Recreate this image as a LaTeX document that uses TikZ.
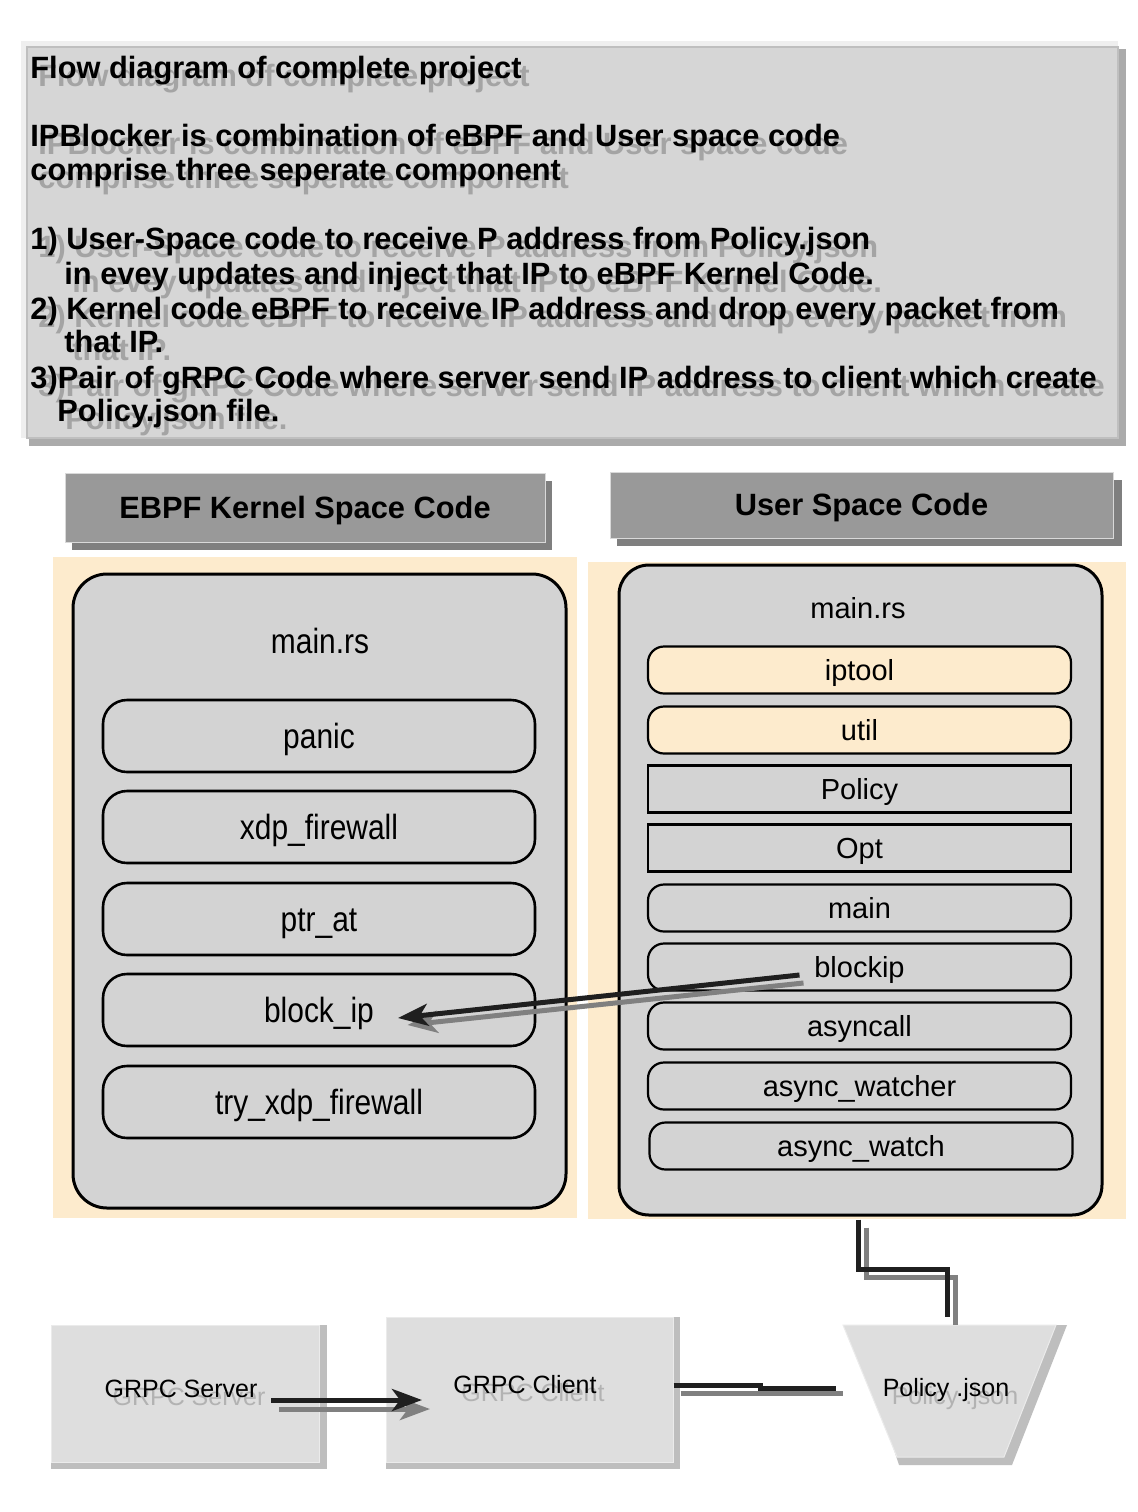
\documentclass[tikz,border=0pt]{standalone}
\usepackage{fontspec}
\setmainfont{Liberation Sans}
\newfontfamily\narrowfont[FakeStretch=0.855]{Liberation Sans}
\usetikzlibrary{arrows.meta,calc}
\definecolor{beige}{HTML}{FDEBCD}
\definecolor{panelgray}{HTML}{D3D3D3}
\definecolor{hdrgray}{HTML}{999999}
\definecolor{hdrshadow}{HTML}{7F7F7F}
\definecolor{ghostgray}{HTML}{A4A4A4}
\definecolor{boxgray}{HTML}{DEDEDE}
\definecolor{boxshadow}{HTML}{BEBEBE}
\definecolor{linegray}{HTML}{808080}
\definecolor{topfill}{HTML}{D6D6D6}
\definecolor{topframe}{HTML}{EFEFEF}
\definecolor{topshadow}{HTML}{ABABAB}
\begin{document}
\begin{tikzpicture}[x=0.5pt,y=-0.5pt,
  toptext/.style={anchor=base west, inner sep=0, font=\fontsize{15.4}{17}\selectfont\bfseries},
  hdr/.style={fill=hdrgray, draw=white!85!black, line width=0.5pt, inner sep=0,
     font=\fontsize{15.4}{17}\selectfont\bfseries, text height=13.9pt, text depth=3.3pt},
  bigpanel/.style={fill=panelgray, draw=black, line width=1.5pt, rounded corners=17pt, inner sep=0},
  litem/.style={draw=black, line width=1.3pt, rounded corners=12pt, fill=panelgray,
     minimum width=216pt, minimum height=36pt, inner sep=0,
     font=\narrowfont\fontsize{17.5}{20}\selectfont, text height=15.8pt, text depth=3.7pt},
  ltext/.style={inner sep=0, font=\narrowfont\fontsize{17.5}{20}\selectfont, text height=15.8pt, text depth=3.7pt},
  ritem/.style={draw=black, line width=1.1pt, rounded corners=8pt, fill=panelgray,
     minimum width=211.5pt, minimum height=23.5pt, inner sep=0,
     font=\fontsize{14.5}{17}\selectfont, text height=13.1pt, text depth=3.1pt},
  rtext/.style={inner sep=0, font=\fontsize{14.5}{17}\selectfont, text height=13.1pt, text depth=3.1pt},
  rbox/.style={ritem, sharp corners, line width=1.3pt},
  beigeitem/.style={ritem, fill=beige},
  gbox/.style={fill=boxgray, draw=white!92!black, line width=0.5pt, inner sep=0},
  glabel/.style={inner sep=0, font=\fontsize{12.5}{15}\selectfont, text height=11.3pt, text depth=2.65pt},
  conn/.style={line width=2.5pt, draw=black!88},
  connshadow/.style={line width=2.5pt, draw=linegray},
  tip/.style={-{Stealth[length=15pt,width=11pt,inset=4pt]}}
]
\useasboundingbox (0,0) rectangle (1138,1512);
\fill[white] (0,0) rectangle (1138,1512);

% ---- top description box ----
\fill[topshadow] (29,49) rectangle (1126,446);
\fill[topframe] (21,41) rectangle (1118,438);
\filldraw[fill=topfill, draw=white!75!black, line width=0.6pt] (27,47) rectangle (1118,438);
\foreach \n/\x/\y/\t in {
  a/30/78/{Flow diagram of complete project},
  b/30/146/{IPBlocker is combination of eBPF and User space code},
  c/30/180/{comprise three seperate component},
  d/30/249/{1) User-Space code to receive P address from Policy.json},
  e/64/284/{in evey updates and inject that IP to eBPF Kernel Code.},
  f/30/319/{2) Kernel code eBPF to receive IP address and drop every packet from},
  g/64/352/{that IP.},
  h/30/388/{3)Pair of gRPC Code where server send IP address to client which create},
  i/57/421/{Policy.json file.}}{
  \node[toptext, text=ghostgray] (ghost\n) at (\x+8,\y+8) {\t};
  \node[toptext] (line\n) at (\x,\y) {\t};
}

% ---- headers ----
\fill[hdrshadow] (72,481) rectangle (552,550);
\node[hdr, minimum width=240pt, minimum height=34.5pt] (khdr) at (305,507.5) {EBPF Kernel Space Code};
\fill[hdrshadow] (617,480) rectangle (1122,546);
\node[hdr, minimum width=251.5pt, minimum height=33pt] (uhdr) at (861.5,505) {User Space Code};

% ---- beige backgrounds ----
\fill[beige] (53,557) rectangle (577,1218);
\fill[beige] (588,562) rectangle (1126,1219);

% ---- kernel panel ----
\node[bigpanel, minimum width=246.5pt, minimum height=317pt] (kpanel) at (319.5,891) {};
\node[ltext] (kmain) at (320,641) {main.rs};
\node[litem] (panic) at (319,736) {panic};
\node[litem] (xdpfw) at (319,827) {xdp\_firewall};
\node[litem] (ptrat) at (319,919) {ptr\_at};
\node[litem] (blockipk) at (319,1010) {block\_ip};
\node[litem] (tryxdp) at (319,1102) {try\_xdp\_firewall};

% ---- user panel ----
\node[bigpanel, rounded corners=15pt, minimum width=241.5pt, minimum height=325pt] (upanel) at (860.5,890) {};
\node[rtext] (umain) at (858,608) {main.rs};
\node[beigeitem] (iptool) at (859.5,670) {iptool};
\node[beigeitem] (util) at (859.5,730) {util};
\node[rbox] (policyst) at (859.5,789) {Policy};
\node[rbox] (opt) at (859.5,848) {Opt};
\node[ritem] (mainfn) at (859.5,908) {main};
\node[ritem] (blockip) at (859.5,967) {blockip};
\node[ritem] (asyncall) at (859.5,1026) {asyncall};
\node[ritem] (awatcher) at (859.5,1086) {async\_watcher};
\node[ritem] (awatch) at (861,1146) {async\_watch};

% ---- arrow blockip -> block_ip ----
\draw[connshadow, tip] ($(blockip.center)+(-56,16)$) -- ($(blockip.center)!0!(blockip.center)+(-452,58)$);
\draw[conn, tip] ($(blockip.center)+(-60,8)$) -- ($(blockipk.center)+(79,8)$);

% ---- bottom boxes ----
\fill[boxshadow] (51,1325) rectangle (327,1469);
\node[gbox, minimum width=134pt, minimum height=68.5pt] (server) at (185,1393.5) {};
\fill[boxshadow] (386,1317) rectangle (680,1469);
\node[gbox, minimum width=143.5pt, minimum height=72.5pt] (client) at (529.5,1389.5) {};

\node[inner sep=0, minimum width=106.5pt, minimum height=66pt] (policy) at (949.5,1391) {};
\fill[boxshadow] (853,1325) -- (1067,1325) -- (1012,1465) -- (899,1465) -- cycle;
\filldraw[fill=boxgray, draw=white!92!black, line width=0.5pt] (843,1325) -- (1056,1325) -- (1004,1457) -- (897,1457) -- cycle;

\node[glabel, text=ghostgray!85] (serverg) at (189,1397) {GRPC Server};
\node[glabel] (servert) at (181,1389) {GRPC Server};
\node[glabel, text=ghostgray!85] (clientg) at (533,1393) {GRPC Client};
\node[glabel] (clientt) at (525,1385) {GRPC Client};
\node[glabel, text=ghostgray!85] (policyg) at (955,1396) {Policy .json};
\node[glabel] (policyt) at (946,1388) {Policy .json};

% ---- connectors ----
\draw[connshadow, tip] ($(server.center)+(94,15.5)$) -- ($(client.center)+(-99.5,19.5)$);
\draw[conn, tip] ($(server.center)+(86,6.5)$) -- ($(client.center)+(-107.5,10.5)$);

\draw[connshadow] ($(client.east)+(7,3.5)$) -- ($(policy.west)+(0,2)$);
\draw[conn] ($(client.east)+(0,-4.5)$) -- ++(87,0) |- ($(policy.west)+(-7,-3)$);

\draw[connshadow] ($(upanel.south)+(5.5,11)$) -- ++(0,50) -| ($(policy.north)+(5.5,0)$);
\draw[conn] ($(upanel.south)+(-2.5,3)$) -- ++(0,50) -| ($(policy.north)+(-2.5,-8)$);
\end{tikzpicture}
\end{document}
